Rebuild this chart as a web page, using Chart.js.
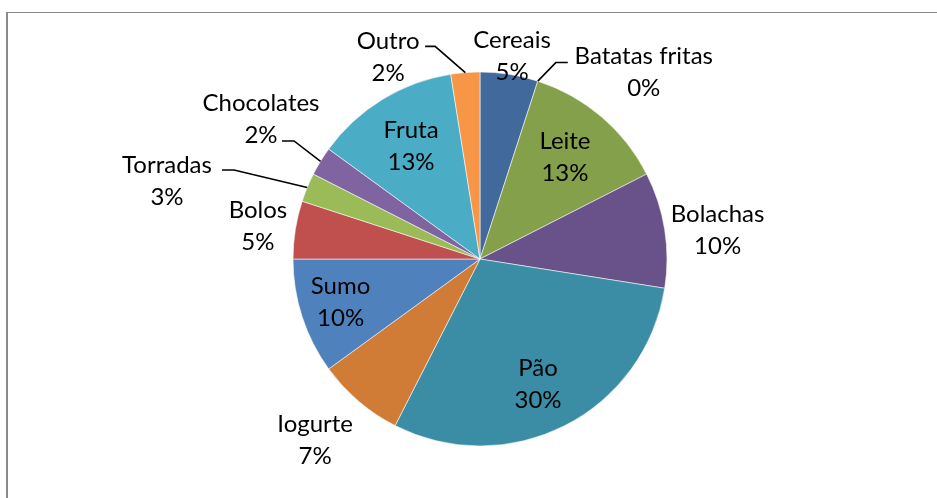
<!DOCTYPE html>
<html>
<head>
<meta charset="utf-8">
<script src="https://cdn.jsdelivr.net/npm/chart.js@4.4.1/dist/chart.umd.min.js"></script>
<style>
    html, body { margin: 0; padding: 0; background: #fff; overflow: hidden; }
    #wrap { position: relative; width: 937px; height: 498px; }
    #frame { position: absolute; left: 6px; top: 12px; width: 940px; height: 500px;
             border-left: 2px solid #8a8a8a; border-top: 1px solid #8a8a8a; }
    canvas { position: absolute; left: 0; top: 0; }
</style>
</head>
<body>
<div id="wrap">
    <div id="frame"></div>
    <canvas id="chart" width="937" height="498"></canvas>
</div>
<script>
const categories = ['Cereais', 'Batatas fritas', 'Leite', 'Bolachas', 'Pão', 'Iogurte',
                    'Sumo', 'Bolos', 'Torradas', 'Chocolates', 'Fruta', 'Outro'];
const answers = [2, 0, 5, 4, 12, 3, 4, 2, 1, 1, 5, 1];
const percent_labels = ['5%', '0%', '13%', '10%', '30%', '7%', '10%', '5%', '3%', '2%', '13%', '2%'];
const slice_colors = ['#41699c', '#a3403d', '#84a04a', '#69518a', '#3b8da5', '#d07c37',
                      '#4f81bd', '#c0504d', '#9bbb59', '#8064a2', '#4bacc6', '#f79646'];

// where each label sits: shift from slice middle (degrees), distance (share of radius)
const label_shift = [0, 23.3, -0.7, 2, 2.2, 1.8, 0.9, -0.7, -8.5, 1.1, 0.1, -20];
const label_dist = [1.096, 1.327, 0.71, 1.28, 0.74, 1.31, 0.78, 1.2, 1.725, 1.39, 0.708, 1.185];
// leader lines: [end x, end y] from label centre, then elbow length
const leaders = { 1: [-76, -10, -12], 8: [55, -11, 12], 9: [21, 22, 12], 11: [37, -11, 10] };

const pieLabels = {
    id: 'pieLabels',
    afterDatasetsDraw(chart) {
        const ctx = chart.ctx;
        const meta = chart.getDatasetMeta(0);
        ctx.save();
        ctx.font = '24px Lato';
        ctx.fillStyle = '#000';
        ctx.strokeStyle = '#000';
        ctx.lineWidth = 1.6;
        ctx.textAlign = 'center';
        ctx.textBaseline = 'middle';
        meta.data.forEach((arc, i) => {
            const p = arc.getProps(['x', 'y', 'startAngle', 'endAngle', 'outerRadius'], true);
            const mid = (p.startAngle + p.endAngle) / 2;
            const a = mid + label_shift[i] * Math.PI / 180;
            const lx = p.x + Math.cos(a) * label_dist[i] * p.outerRadius;
            const ly = p.y + Math.sin(a) * label_dist[i] * p.outerRadius;
            ctx.fillText(categories[i], lx, ly - 16);
            ctx.fillText(percent_labels[i], lx, ly + 16);
            const lead = leaders[i];
            if (lead) {
                const ex = lx + lead[0], ey = ly + lead[1];
                ctx.beginPath();
                ctx.moveTo(ex, ey);
                ctx.lineTo(ex + lead[2], ey);
                ctx.lineTo(p.x + Math.cos(mid) * p.outerRadius, p.y + Math.sin(mid) * p.outerRadius);
                ctx.stroke();
            }
        });
        ctx.restore();
    }
};

new Chart(document.getElementById('chart'), {
    type: 'pie',
    data: {
        labels: categories,
        datasets: [{
            data: answers,
            backgroundColor: slice_colors,
            borderColor: 'rgba(255,255,255,0.55)',
            borderWidth: answers.map(v => v > 0 ? 1 : 0),
            radius: 187
        }]
    },
    options: {
        responsive: false,
        devicePixelRatio: 1,
        animation: false,
        layout: { padding: { left: 293, right: 270, top: 72, bottom: 52 } },
        plugins: {
            legend: { display: false },
            tooltip: { enabled: false }
        }
    },
    plugins: [pieLabels]
});
</script>
</body>
</html>
